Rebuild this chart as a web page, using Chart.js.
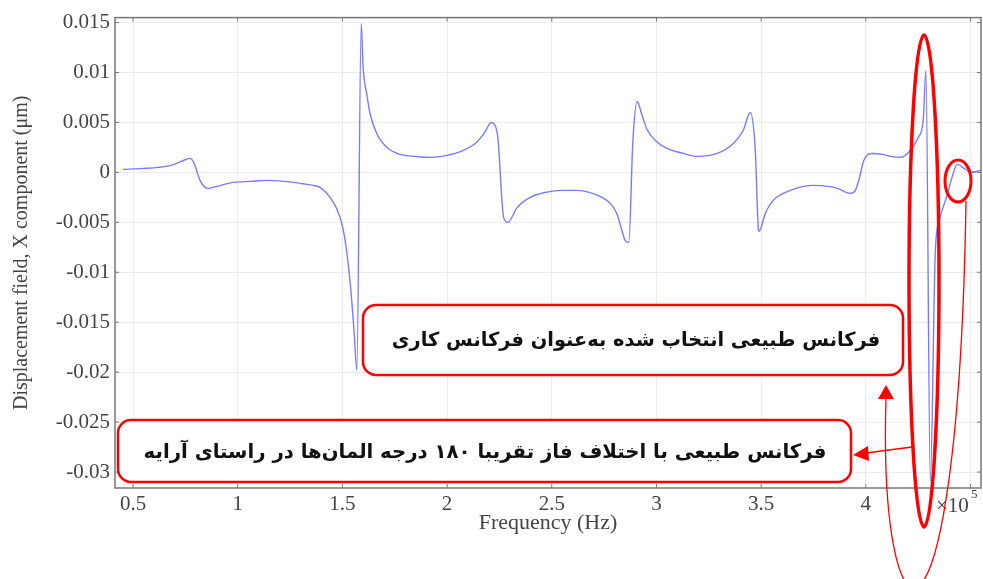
<!DOCTYPE html>
<html>
<head>
<meta charset="utf-8">
<script src="https://cdn.jsdelivr.net/npm/chart.js@4"></script>
<style>
  body { margin: 0; background: #fff; }
  #box { width: 983px; height: 579px; }
</style>
</head>
<body>
<div id="box"><canvas id="myChart"></canvas></div>
<script>
// frequency (x 10^5 Hz) and X displacement (um)
var freq = [0.452, 0.55, 0.62, 0.68, 0.73, 0.772, 0.79, 0.82, 0.84, 0.858, 0.9, 0.98, 1.06, 1.14, 1.22, 1.3, 1.36, 1.393, 1.441, 1.489, 1.513, 1.537, 1.556, 1.569,
  1.59, 1.599, 1.616, 1.632, 1.664, 1.713, 1.776, 1.85, 1.92, 2.0, 2.077, 2.14, 2.18, 2.21, 2.24, 2.27, 2.29, 2.335, 2.397, 2.47, 2.55, 2.62, 2.68, 2.74, 2.78, 2.81, 2.835, 2.85, 2.868,
  2.887, 2.908, 2.93, 2.955, 3.0, 3.05, 3.128, 3.195, 3.29, 3.367, 3.414, 3.448, 3.472, 3.486, 3.49, 3.52, 3.558, 3.64, 3.749, 3.82, 3.864, 3.925, 3.95, 3.97, 3.99, 4.03, 4.08, 4.117, 4.165, 4.212, 4.25, 4.274, 4.287,
  4.308, 4.332, 4.356, 4.389, 4.413, 4.437, 4.47, 4.5, 4.55];
var dispX = [0.0003, 0.0004, 0.0005, 0.0007, 0.0011, 0.0014, 0.0010, -0.0008, -0.0014, -0.0016, -0.0014, -0.0010, -0.0009, -0.0008, -0.0009, -0.0011, -0.0013, -0.0015, -0.0025, -0.0045, -0.0068, -0.011, -0.016, -0.0198,
  0.0149, 0.0105, 0.0079, 0.0059, 0.0039, 0.0025, 0.0018, 0.0016, 0.0015, 0.0017, 0.0022, 0.003, 0.004, 0.005, 0.0039, -0.0045, -0.005, -0.0035, -0.0025, -0.002, -0.0018, -0.0018, -0.002, -0.0025, -0.0031, -0.0041, -0.0058, -0.0068, -0.007,
  0.003, 0.0071, 0.0058, 0.0043, 0.0031, 0.0024, 0.0019, 0.0016, 0.0019, 0.0029, 0.0042, 0.006, 0.0022, -0.0055, -0.0059, -0.0041, -0.0028, -0.0018, -0.0013, -0.0014, -0.0016, -0.0021, -0.0018, -0.0005, 0.0012, 0.0019, 0.0018, 0.0016, 0.0015, 0.0022, 0.0035, 0.0052, 0.0102,
  -0.031, -0.0078, -0.0044, -0.0022, -0.0004, 0.0008, 0.0004, 0.0, 0.0002];

var xTicks = [0.5, 1, 1.5, 2, 2.5, 3, 3.5, 4, 4.5];
var yTicks = [0.015, 0.01, 0.005, 0, -0.005, -0.01, -0.015, -0.02, -0.025, -0.03];

var note1 = 'فرکانس طبیعی انتخاب شده به‌عنوان فرکانس کاری';
var note2 = 'فرکانس طبیعی با اختلاف فاز تقریبا ۱۸۰ درجه المان‌ها در راستای آرایه';

var points = [];
for (var i = 0; i < freq.length; i++) {
  points.push({x: freq[i], y: dispX[i]});
}

var serif = '"Liberation Serif", "DejaVu Serif", serif';

// frame, inward ticks, x10^5 label and the red notes
var extras = {
  id: 'extras',
  afterDraw: function (chart) {
    var ctx = chart.ctx;
    var a = chart.chartArea;
    var xs = chart.scales.x, ys = chart.scales.y;
    ctx.save();

    // frame
    ctx.strokeStyle = '#777';
    ctx.lineWidth = 1.5;
    ctx.strokeRect(a.left, a.top, a.right - a.left, a.bottom - a.top);
    ctx.lineWidth = 1;
    ctx.beginPath();
    xTicks.forEach(function (t) {
      var px = xs.getPixelForValue(t);
      ctx.moveTo(px, a.top); ctx.lineTo(px, a.top + 4);
      ctx.moveTo(px, a.bottom); ctx.lineTo(px, a.bottom - 4);
    });
    yTicks.forEach(function (t) {
      var py = ys.getPixelForValue(t);
      ctx.moveTo(a.left, py); ctx.lineTo(a.left + 4, py);
      ctx.moveTo(a.right, py); ctx.lineTo(a.right - 4, py);
    });
    ctx.stroke();

    // x10^5
    ctx.fillStyle = '#444';
    ctx.font = '21px ' + serif;
    ctx.textBaseline = 'middle';
    ctx.textAlign = 'left';
    ctx.fillText('\u00d710', 936, 506);
    ctx.font = '13px ' + serif;
    ctx.fillText('5', 971, 495);

    // note boxes
    ctx.strokeStyle = '#ff0000';
    ctx.fillStyle = '#fff';
    ctx.lineWidth = 2.5;
    ctx.beginPath(); ctx.roundRect(363, 305, 540, 70, 13); ctx.fill(); ctx.stroke();
    ctx.beginPath(); ctx.roundRect(118, 420, 733, 62, 13); ctx.fill(); ctx.stroke();

    function note(txt, cx, cy, w) {
      ctx.font = 'bold 20px "DejaVu Sans"';
      var size = 20 * w / ctx.measureText(txt).width;
      ctx.font = 'bold ' + size.toFixed(1) + 'px "DejaVu Sans"';
      ctx.direction = 'rtl';
      ctx.textAlign = 'center';
      ctx.textBaseline = 'middle';
      ctx.fillStyle = '#111';
      ctx.fillText(txt, cx, cy);
    }
    note(note1, 636, 341, 489);
    note(note2, 485, 453, 682);

    // ellipses
    ctx.strokeStyle = '#ff0000';
    ctx.lineWidth = 3.5;
    ctx.beginPath(); ctx.ellipse(924, 281, 15, 246, 0, 0, Math.PI * 2); ctx.stroke();
    ctx.lineWidth = 3;
    ctx.beginPath(); ctx.ellipse(958, 181, 13, 21, 0, 0, Math.PI * 2); ctx.stroke();

    // arrow to lower box
    ctx.fillStyle = '#ff0000';
    ctx.lineWidth = 1.6;
    ctx.beginPath(); ctx.moveTo(912, 447); ctx.lineTo(866, 453); ctx.stroke();
    ctx.beginPath(); ctx.moveTo(853, 455); ctx.lineTo(868, 446); ctx.lineTo(869, 461); ctx.closePath(); ctx.fill();

    // curved arrow to upper box
    ctx.lineWidth = 1.3;
    ctx.beginPath();
    ctx.moveTo(966, 201);
    ctx.bezierCurveTo(958, 700, 878, 660, 886, 398);
    ctx.stroke();
    ctx.beginPath(); ctx.moveTo(886, 385); ctx.lineTo(878, 399); ctx.lineTo(894, 399); ctx.closePath(); ctx.fill();

    ctx.restore();
  }
};

var ctx = document.getElementById('myChart').getContext('2d');
var myChart = new Chart(ctx, {
  type: 'line',
  data: {
    datasets: [{
      data: points,
      borderColor: 'rgba(70, 70, 255, 0.72)',
      borderWidth: 1.4,
      pointRadius: 0,
      fill: false,
      cubicInterpolationMode: 'monotone'
    }]
  },
  options: {
    responsive: true,
    maintainAspectRatio: false,
    animation: false,
    layout: { padding: { top: 17, right: 2, left: 0, bottom: 0 } },
    plugins: { legend: { display: false }, tooltip: { enabled: false } },
    scales: {
      x: {
        type: 'linear',
        min: 0.414,
        max: 4.55,
        afterFit: function (s) { s.height = 91; },
        afterBuildTicks: function (s) { s.ticks = xTicks.map(function (v) { return {value: v}; }); },
        ticks: {
          padding: 4,
          color: '#444',
          font: { family: serif, size: 21 },
          maxRotation: 0,
          autoSkip: false,
          callback: function (v) { return v === 4.5 ? '' : String(v); }
        },
        grid: { color: '#ececec', drawTicks: false },
        border: { display: false },
        title: {
          display: true,
          text: 'Frequency (Hz)',
          color: '#444',
          font: { family: serif, size: 22 },
          padding: { top: 43, bottom: 43 }
        }
      },
      y: {
        min: -0.0316,
        max: 0.0155,
        afterFit: function (s) { s.width = 115; },
        afterBuildTicks: function (s) { s.ticks = yTicks.map(function (v) { return {value: v}; }); },
        ticks: {
          padding: 5,
          color: '#444',
          font: { family: serif, size: 21 },
          autoSkip: false,
          callback: function (v) { return String(parseFloat(v.toFixed(4))); }
        },
        grid: { color: '#ececec', drawTicks: false },
        border: { display: false },
        title: {
          display: true,
          text: 'Displacement field, X component (\u03bcm)',
          color: '#444',
          font: { family: serif, size: 20 },
          padding: { top: 10, bottom: 10 }
        }
      }
    }
  },
  plugins: [extras]
});
</script>
</body>
</html>
